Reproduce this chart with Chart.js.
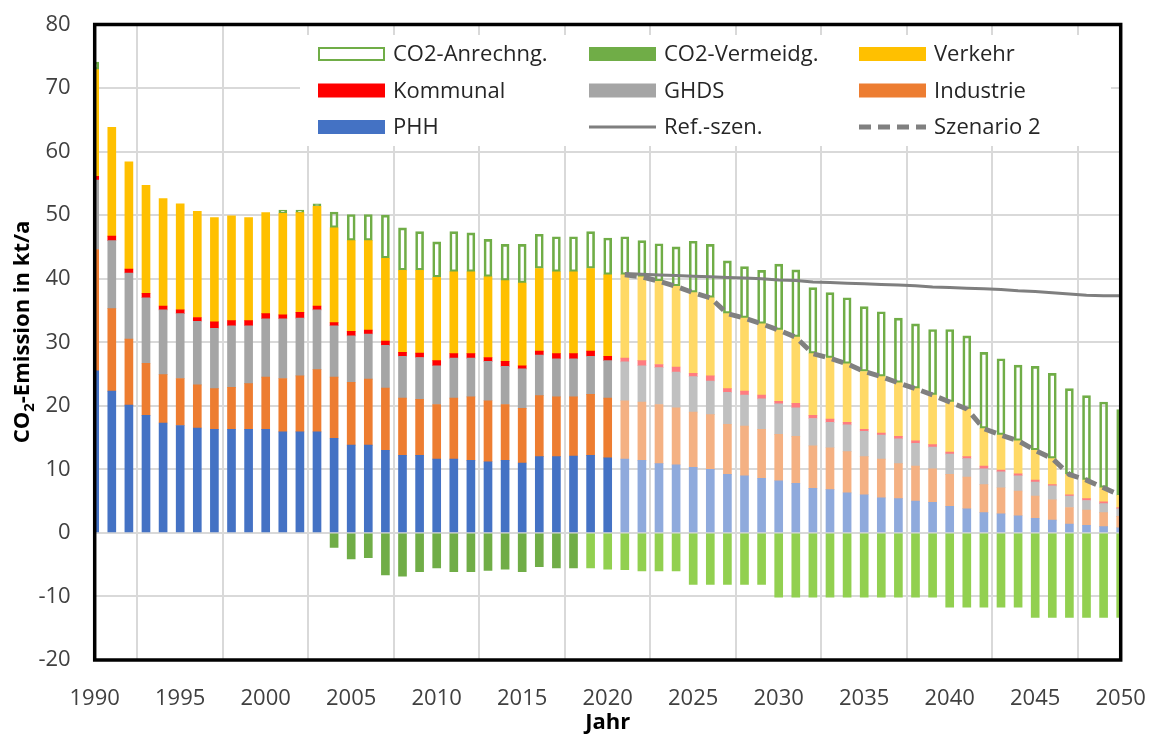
<!DOCTYPE html>
<html>
<head>
<meta charset="utf-8">
<title>CO2-Emission 1990–2050</title>
<script src="https://cdn.jsdelivr.net/npm/chart.js@4.4.1/dist/chart.umd.min.js"></script>
<style>
  html, body { margin: 0; padding: 0; background: #ffffff; }
  #wrap { width: 1156px; height: 737px; }
</style>
</head>
<body>
<div id="wrap"><canvas id="chart" width="1156" height="737"></canvas></div>
<script>
// ---- Data (kt CO2 per year) ----
const years = [
  1990, 1991, 1992, 1993, 1994, 1995, 1996, 1997, 1998, 1999,
  2000, 2001, 2002, 2003, 2004, 2005, 2006, 2007, 2008, 2009,
  2010, 2011, 2012, 2013, 2014, 2015, 2016, 2017, 2018, 2019,
  2020, 2021, 2022, 2023, 2024, 2025, 2026, 2027, 2028, 2029,
  2030, 2031, 2032, 2033, 2034, 2035, 2036, 2037, 2038, 2039,
  2040, 2041, 2042, 2043, 2044, 2045, 2046, 2047, 2048, 2049, 2050
];

const phh = [
  25.5, 22.3, 20.1, 18.5, 17.3, 16.9, 16.5, 16.3, 16.3, 16.3,
  16.3, 15.9, 15.9, 15.9, 14.9, 13.8, 13.8, 13.0, 12.2, 12.2,
  11.6, 11.6, 11.4, 11.2, 11.4, 11.0, 12.0, 12.0, 12.1, 12.2,
  11.8, 11.6, 11.4, 10.9, 10.7, 10.3, 10.0, 9.2, 9.0, 8.6,
  8.2, 7.8, 7.0, 6.8, 6.3, 6.0, 5.5, 5.4, 5.0, 4.8,
  4.2, 3.8, 3.2, 3.0, 2.7, 2.3, 2.0, 1.4, 1.2, 1.0, 0.8
];

const industrie = [
  19.1, 13.0, 10.4, 8.2, 7.6, 7.4, 6.8, 6.4, 6.6, 7.2,
  8.2, 8.4, 8.8, 9.8, 9.6, 9.9, 10.4, 9.8, 9.0, 8.8,
  8.6, 9.6, 10.0, 9.6, 8.8, 8.6, 9.6, 9.4, 9.3, 9.6,
  9.4, 9.2, 9.2, 9.3, 9.0, 8.7, 8.6, 7.9, 7.8, 7.7,
  7.3, 7.4, 6.7, 6.6, 6.5, 6.0, 6.1, 5.5, 5.5, 5.3,
  5.0, 5.0, 4.4, 4.1, 3.9, 3.5, 3.2, 2.6, 2.4, 2.2, 1.8
];

const ghds = [
  10.9, 10.7, 10.4, 10.3, 10.2, 10.2, 10.0, 9.5, 9.7, 9.1,
  9.2, 9.4, 9.1, 9.4, 8.1, 7.3, 7.1, 6.7, 6.6, 6.6,
  6.1, 6.3, 6.1, 6.2, 6.0, 6.2, 6.4, 6.0, 6.0, 6.0,
  5.9, 6.1, 5.7, 5.8, 5.6, 5.6, 5.3, 5.0, 4.9, 4.8,
  4.8, 4.5, 4.3, 4.0, 4.2, 4.0, 3.8, 3.9, 3.6, 3.4,
  3.2, 2.9, 2.5, 2.5, 2.4, 2.2, 2.2, 1.8, 1.5, 1.4, 1.2
];

const kommunal = [
  0.6, 0.7, 0.6, 0.7, 0.6, 0.6, 0.6, 1.0, 0.8, 0.8,
  0.8, 0.6, 0.9, 0.6, 0.5, 0.7, 0.6, 0.7, 0.6, 0.7,
  0.8, 0.7, 0.7, 0.6, 0.8, 0.5, 0.6, 0.8, 0.8, 0.8,
  0.7, 0.6, 0.8, 0.5, 0.8, 0.5, 0.8, 0.6, 0.6, 0.6,
  0.4, 0.7, 0.5, 0.5, 0.4, 0.3, 0.3, 0.4, 0.4, 0.4,
  0.3, 0.3, 0.4, 0.3, 0.3, 0.3, 0.2, 0.2, 0.3, 0.3, 0.2
];

const verkehr = [
  16.8, 17.1, 16.9, 17.0, 16.9, 16.7, 16.7, 16.4, 16.5, 16.2,
  15.9, 16.0, 15.7, 15.7, 14.9, 14.3, 14.1, 13.0, 12.9, 13.0,
  13.1, 12.9, 12.9, 12.7, 12.7, 13.0, 13.0, 12.9, 12.9, 13.0,
  12.8, 13.1, 13.2, 13.1, 12.7, 12.7, 12.3, 11.8, 11.5, 11.2,
  11.2, 10.4, 9.7, 9.6, 9.2, 9.1, 8.9, 8.4, 8.2, 7.8,
  7.9, 7.5, 5.9, 5.5, 5.2, 4.7, 4.1, 3.2, 2.9, 2.2, 1.9
];

const anrechnung = [
  1.2, null, null, null, null, null, null, null, null, null,
  null, 0.5, 0.4, 0.4, 2.5, 4.1, 4.1, 6.8, 6.7, 6.1,
  5.6, 6.3, 6.1, 5.9, 5.7, 6.1, 5.4, 5.5, 5.5, 5.8,
  5.8, 6.0, 5.7, 5.9, 6.2, 8.1, 8.4, 8.3, 8.1, 8.4,
  10.4, 10.6, 10.4, 10.3, 10.4, 10.2, 10.2, 10.2, 10.2, 10.3,
  11.4, 11.5, 12.0, 12.0, 11.9, 13.2, 13.4, 13.5, 13.3, 13.5, 13.5
];

const vermeidung = [
  null, null, null, null, null, null, null, null, null, null,
  null, null, null, null, -2.3, -4.1, -3.9, -6.6, -6.8, -6.1,
  -5.5, -6.1, -6.1, -5.9, -5.7, -6.1, -5.3, -5.5, -5.5, -5.5,
  -5.7, -5.8, -6.0, -6.0, -6.0, -8.1, -8.1, -8.1, -8.1, -8.1,
  -10.1, -10.1, -10.1, -10.1, -10.1, -10.1, -10.1, -10.1, -10.1, -10.1,
  -11.7, -11.7, -11.7, -11.7, -11.7, -13.3, -13.3, -13.3, -13.3, -13.3, -13.3
];

// Reference scenario, 2021–2050
const refYears = [
  2021, 2022, 2023, 2024, 2025, 2026, 2027, 2028, 2029, 2030,
  2031, 2032, 2033, 2034, 2035, 2036, 2037, 2038, 2039, 2040,
  2041, 2042, 2043, 2044, 2045, 2046, 2047, 2048, 2049, 2050
];
const refSzen = [
  40.8, 40.7, 40.6, 40.5, 40.4, 40.3, 40.2, 40.1, 40.0, 39.8,
  39.7, 39.5, 39.4, 39.3, 39.2, 39.1, 39.0, 38.9, 38.7, 38.6,
  38.5, 38.4, 38.3, 38.1, 38.0, 37.8, 37.6, 37.4, 37.3, 37.3
];

const yTicks = { min: -20, max: 80, step: 10 };
const xTicks = { min: 1990, max: 2050, step: 5 };

// Projection years are shown in lighter tones
const projectionFrom = 2021;
const lightGreenFrom = 2019;

// Scenario 2 = total emissions of all sectors in the projection years
const szenario2 = refYears.map(y => {
  const i = years.indexOf(y);
  return { x: y, y: +(phh[i] + industrie[i] + ghds[i] + kommunal[i] + verkehr[i]).toFixed(1) };
});

// ---- Styling ----
const FONT = "'Open Sans', 'Liberation Sans', sans-serif";
const TEXT = '#404040';

function byPeriod(dark, light, from) {
  return (c) => (years[c.dataIndex] >= from ? light : dark);
}

function sector(label, values, dark, light) {
  return {
    type: 'bar', label, data: values,
    backgroundColor: byPeriod(dark, light, projectionFrom),
    legendColor: dark,
    borderWidth: 0, barThickness: 8, clip: 0, order: 1
  };
}

const datasets = [
  sector('PHH', phh, '#4472C4', '#8FAADC'),
  sector('Industrie', industrie, '#ED7D31', '#F4B183'),
  sector('GHDS', ghds, '#A5A5A5', '#C0C0C0'),
  sector('Kommunal', kommunal, '#FF0000', '#FF7C80'),
  sector('Verkehr', verkehr, '#FFC000', '#FFD966'),
  {
    type: 'bar', label: 'CO2-Anrechng.', data: anrechnung,
    backgroundColor: 'rgba(255,255,255,0)', borderColor: '#70AD47',
    borderWidth: 2, borderSkipped: false, legendOutline: true,
    barThickness: 8, clip: 0, order: 1
  },
  {
    type: 'bar', label: 'CO2-Vermeidg.', data: vermeidung,
    backgroundColor: byPeriod('#70AD47', '#92D050', lightGreenFrom),
    legendColor: '#70AD47',
    borderWidth: 0, barThickness: 8, clip: 0, order: 1
  },
  {
    type: 'line', label: 'Ref.-szen.', stack: 'ref',
    data: refYears.map((y, i) => ({ x: y, y: refSzen[i] })),
    borderColor: '#7F7F7F', borderWidth: 3, pointRadius: 0, tension: 0,
    fill: false, order: 0
  },
  {
    type: 'line', label: 'Szenario 2', stack: 'sz2',
    data: szenario2,
    borderColor: '#808080', borderWidth: 5, borderDash: [12, 7],
    pointRadius: 0, tension: 0, fill: false, order: 0
  }
];

// ---- Plot frame, legend and axis titles ----
const legendLayout = {
  box: { left: 300, top: 35, right: 1111, bottom: 146 },
  cols: [318, 589, 859],
  rows: [54, 90.5, 127],
  swatchW: 67, swatchH: 14, gap: 8,
  items: [
    ['CO2-Anrechng.', 'CO2-Vermeidg.', 'Verkehr'],
    ['Kommunal', 'GHDS', 'Industrie'],
    ['PHH', 'Ref.-szen.', 'Szenario 2']
  ]
};

const decorations = {
  id: 'decorations',
  beforeDatasetsDraw(chart) {
    const { ctx } = chart;
    const L = legendLayout;
    ctx.save();
    ctx.fillStyle = '#ffffff';
    ctx.fillRect(L.box.left, L.box.top, L.box.right - L.box.left, L.box.bottom - L.box.top);
    L.items.forEach((row, r) => row.forEach((label, c) => {
      const ds = chart.data.datasets.find(d => d.label === label);
      const x = L.cols[c], y = L.rows[r];
      ctx.save();
      if (ds.type === 'line') {
        ctx.strokeStyle = ds.borderColor;
        ctx.lineWidth = ds.borderWidth;
        ctx.setLineDash(ds.borderDash || []);
        ctx.beginPath();
        ctx.moveTo(x, y);
        ctx.lineTo(x + L.swatchW, y);
        ctx.stroke();
      } else if (ds.legendOutline) {
        ctx.strokeStyle = ds.borderColor;
        ctx.lineWidth = ds.borderWidth;
        ctx.strokeRect(x + 1, y - L.swatchH / 2 + 1, L.swatchW - 2, L.swatchH - 2);
      } else {
        ctx.fillStyle = ds.legendColor;
        ctx.fillRect(x, y - L.swatchH / 2, L.swatchW, L.swatchH);
      }
      ctx.restore();
      ctx.fillStyle = '#262626';
      ctx.font = `22px ${FONT}`;
      ctx.textAlign = 'left';
      ctx.textBaseline = 'middle';
      ctx.fillText(label, x + L.swatchW + L.gap, y + 1);
    }));
    ctx.restore();
  },
  afterDatasetsDraw(chart) {
    const { ctx, chartArea: a } = chart;
    ctx.save();
    ctx.strokeStyle = '#000000';
    ctx.lineWidth = 3.5;
    ctx.strokeRect(a.left, a.top, a.right - a.left, a.bottom - a.top);
    ctx.restore();
  },
  afterDraw(chart) {
    const { ctx, chartArea: a } = chart;
    ctx.save();
    ctx.fillStyle = '#000000';
    // x axis title
    ctx.font = `bold 22px ${FONT}`;
    ctx.textAlign = 'center';
    ctx.textBaseline = 'alphabetic';
    ctx.fillText('Jahr', (a.left + a.right) / 2, 729);
    // y axis title with subscript 2
    const big = `bold 22px ${FONT}`, small = `bold 15px ${FONT}`;
    const p1 = 'CO', p2 = '2', p3 = '-Emission in kt/a';
    ctx.font = big; const w1 = ctx.measureText(p1).width, w3 = ctx.measureText(p3).width;
    ctx.font = small; const w2 = ctx.measureText(p2).width;
    const total = w1 + w2 + w3;
    ctx.translate(29, 332);
    ctx.rotate(-Math.PI / 2);
    ctx.textAlign = 'left';
    let x = -total / 2;
    ctx.font = big; ctx.fillText(p1, x, 0); x += w1;
    ctx.font = small; ctx.fillText(p2, x, 5); x += w2;
    ctx.font = big; ctx.fillText(p3, x, 0);
    ctx.restore();
  }
};

new Chart(document.getElementById('chart'), {
  type: 'bar',
  data: { labels: years, datasets },
  options: {
    responsive: false,
    devicePixelRatio: 1,
    animation: false,
    layout: { padding: { top: 24.5, right: 35.3, bottom: 0, left: 0 } },
    plugins: { legend: { display: false }, tooltip: { enabled: false } },
    scales: {
      x: {
        type: 'linear', min: xTicks.min, max: xTicks.max, offset: false, stacked: true,
        ticks: {
          stepSize: xTicks.step, color: TEXT, padding: 26,
          font: { family: FONT, size: 22 },
          callback: v => String(v), maxRotation: 0, autoSkip: false
        },
        grid: { color: '#D9D9D9', lineWidth: 2, drawTicks: false },
        border: { display: false },
        afterFit(s) { s.height = 77; s.paddingLeft = 0; s.paddingRight = 0; }
      },
      y: {
        min: yTicks.min, max: yTicks.max, stacked: true,
        ticks: {
          stepSize: yTicks.step, color: TEXT, padding: 24,
          font: { family: FONT, size: 22 }
        },
        grid: { color: '#D9D9D9', lineWidth: 2, drawTicks: false },
        border: { display: false },
        afterFit(s) { s.width = 94.7; s.paddingTop = 0; s.paddingBottom = 0; }
      }
    }
  },
  plugins: [decorations]
});
</script>
</body>
</html>
